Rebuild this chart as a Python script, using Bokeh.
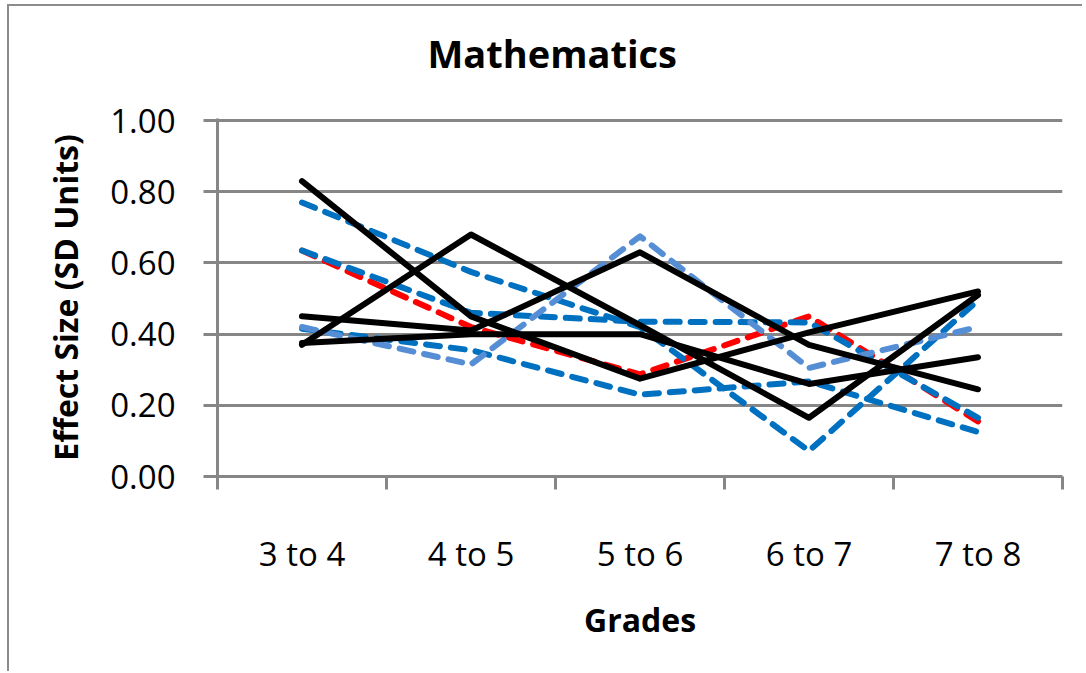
from bokeh.plotting import figure
from bokeh.models import FixedTicker, Range1d, NumeralTickFormatter
from bokeh.embed import file_html
from bokeh.resources import INLINE

# Grade transitions along the horizontal axis
grades = ["3 to 4", "4 to 5", "5 to 6", "6 to 7", "7 to 8"]

# Effect sizes (SD units) per grade transition
solid_a = [0.83, 0.45, 0.275, 0.405, 0.52]
solid_b = [0.37, 0.68, 0.425, 0.165, 0.51]
solid_c = [0.45, 0.41, 0.63, 0.37, 0.245]
solid_d = [0.375, 0.40, 0.40, 0.26, 0.335]

blue_a = [0.77, 0.575, 0.42, 0.072, 0.495]
blue_b = [0.635, 0.46, 0.435, 0.433, 0.165]
blue_c = [0.415, 0.355, 0.23, 0.267, 0.125]
light_blue = [0.42, 0.315, 0.675, 0.305, 0.42]
red_series = [0.635, 0.42, 0.287, 0.45, 0.155]

y_ticks = [0.0, 0.2, 0.4, 0.6, 0.8, 1.0]

GRAY = "#868686"
FONT = "Open Sans"

# category centres sit in the middle of each slot; tick marks fall between slots
xs = [i + 0.5 for i in range(len(grades))]
bounds = list(range(len(grades) + 1))

p = figure(
    width=1075, height=667,
    x_range=Range1d(0, len(grades)), y_range=Range1d(0, 1.006),
    output_backend="svg", toolbar_location=None,
    min_border_left=208, min_border_right=22,
    min_border_top=112, min_border_bottom=197,
    background_fill_color="white", border_fill_color="white",
)
p.outline_line_color = None
p.margin = (4, 0, 0, 7)
p.styles = {"border-left": "2px solid #8c8c8c", "border-top": "2px solid #8c8c8c"}

# title, centred over the whole chart box rather than the plot area;
# the trailing blank line lifts it higher above the plot area
p.title.text = "Mathematics\n"
p.title.align = "left"
p.title.offset = 210
p.title.vertical_align = "top"
p.title.text_font = FONT
p.title.text_font_style = "bold"
p.title.text_font_size = "38px"
p.title.text_line_height = 0.63
p.title.text_color = "black"
p.title.standoff = 10

# x axis: labels at slot centres, ticks at slot boundaries
xa = p.xaxis[0]
xa.ticker = FixedTicker(ticks=xs, minor_ticks=bounds)
xa.major_label_overrides = {x: g for x, g in zip(xs, grades)}
xa.major_tick_out = 0
xa.major_tick_in = 0
xa.minor_tick_out = 13
xa.minor_tick_in = 0
xa.minor_tick_line_color = GRAY
xa.minor_tick_line_width = 3
xa.axis_line_color = GRAY
xa.axis_line_width = 3
xa.major_label_text_font = FONT
xa.major_label_text_font_size = "33px"
xa.major_label_text_color = "black"
xa.major_label_standoff = 41
xa.axis_label = "Grades"
xa.axis_label_text_font = FONT
xa.axis_label_text_font_style = "bold"
xa.axis_label_text_font_size = "32px"
xa.axis_label_text_color = "black"
xa.axis_label_standoff = 19

# y axis
ya = p.yaxis[0]
ya.ticker = FixedTicker(ticks=y_ticks, minor_ticks=[])
ya.formatter = NumeralTickFormatter(format="0.00")
ya.major_tick_out = 14
ya.major_tick_in = 0
ya.major_tick_line_color = GRAY
ya.major_tick_line_width = 3
ya.minor_tick_out = 0
ya.minor_tick_in = 0
ya.axis_line_color = GRAY
ya.axis_line_width = 3
ya.major_label_text_font = FONT
ya.major_label_text_font_size = "33px"
ya.major_label_text_color = "black"
ya.major_label_standoff = 28
ya.axis_label = "Effect Size (SD Units)"
ya.axis_label_text_font = FONT
ya.axis_label_text_font_style = "bold"
ya.axis_label_text_font_size = "32px"
ya.axis_label_text_color = "black"
ya.axis_label_standoff = 20

p.xgrid.visible = False
p.ygrid.ticker = FixedTicker(ticks=y_ticks)
p.ygrid.grid_line_color = GRAY
p.ygrid.grid_line_width = 3

DASH = "14 11"
WIDTH = 6
dashed = [
    (red_series, "#FF0000"),
    (blue_b, "#0070C0"),
    (blue_a, "#0070C0"),
    (blue_c, "#0070C0"),
    (light_blue, "#558ED5"),
]
for vals, color in dashed:
    p.line(xs, vals, line_color=color, line_width=WIDTH, line_dash=DASH,
           line_cap="round", line_join="round")

for vals in (solid_a, solid_b, solid_c, solid_d):
    p.line(xs, vals, line_color="black", line_width=WIDTH,
           line_cap="round", line_join="round")

open("out.html", "w").write(file_html(p, INLINE))
